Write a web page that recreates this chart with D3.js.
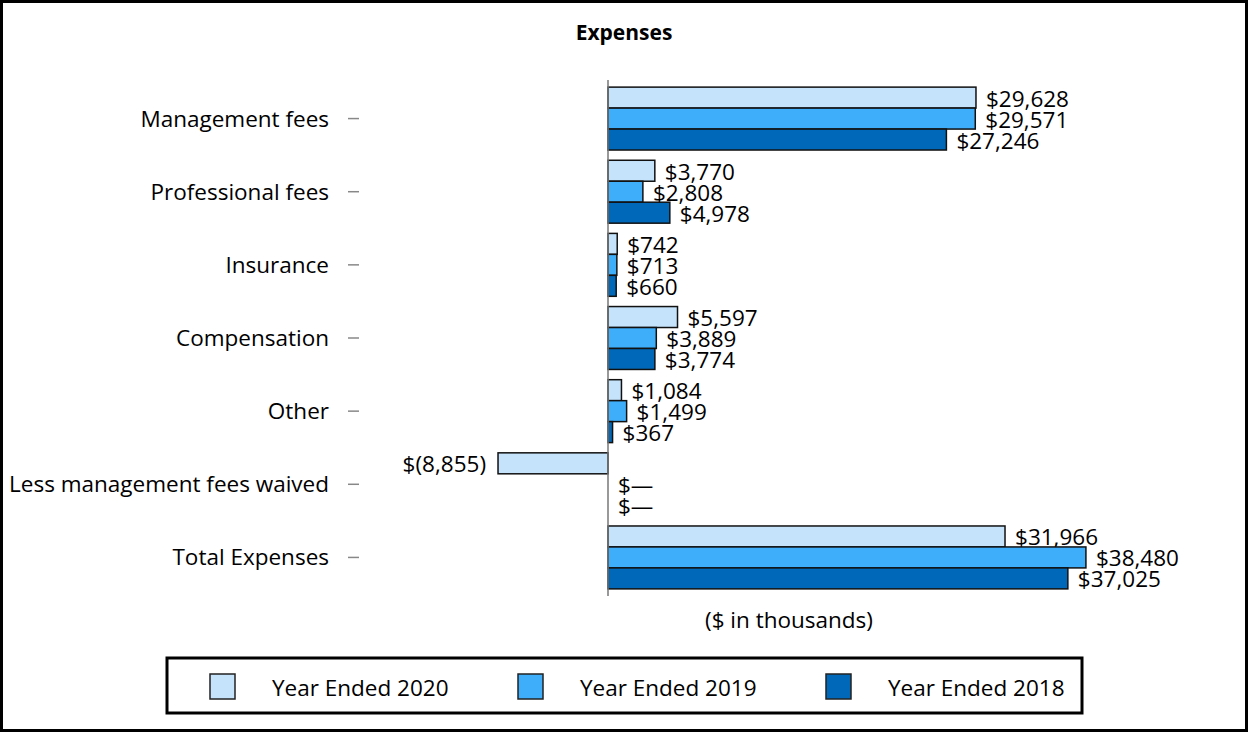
<!DOCTYPE html>
<html>
<head>
<meta charset="utf-8">
<script src="https://cdn.jsdelivr.net/npm/d3@7"></script>
<style>
  body { margin: 0; background: #fff; }
  svg { display: block; font-family: "Open Sans", sans-serif; }
</style>
</head>
<body>
<svg id="Canvas" width="1248" height="732"></svg>
<script>
var categories = ["Management fees", "Professional fees", "Insurance", "Compensation", "Other", "Less management fees waived", "Total Expenses"],
	seriesNames = ["Year Ended 2020", "Year Ended 2019", "Year Ended 2018"],
	values2020 = [29628, 3770, 742, 5597, 1084, -8855, 31966],
	values2019 = [29571, 2808, 713, 3889, 1499, 0, 38480],
	values2018 = [27246, 4978, 660, 3774, 367, 0, 37025],
	seriesColors = ["#c5e4fb", "#3faefa", "#0068b8"];

var svg = d3.select("#Canvas"),
	W = 1248, H = 732;

// outer frame
svg.append("rect")
	.attr("x", 1.5).attr("y", 1.5)
	.attr("width", W - 3).attr("height", H - 3)
	.attr("fill", "none").attr("stroke", "#000").attr("stroke-width", 3);

svg.append("text")
	.attr("x", 624).attr("y", 40)
	.attr("text-anchor", "middle")
	.style("font-weight", "bold").style("font-size", "21px")
	.text("Expenses");

var x = d3.scaleLinear().domain([0, 1000]).range([608, 620.42]);

var y = d3.scaleBand().domain(categories).range([82, 594]).paddingInner(0.14).paddingOuter(0.07);

var y1 = d3.scaleBand().domain(seriesNames).range([0, y.bandwidth()]);

var series = [values2020, values2019, values2018];

function fmt(v){
	if(v === 0) return "$\u2014";
	if(v < 0) return "$(" + d3.format(",")(-v) + ")";
	return "$" + d3.format(",")(v);
}

// category labels + ticks
var cats = svg.append("g");
categories.forEach(function(c){
	var cy = y(c) + y.bandwidth() / 2;
	cats.append("text")
		.attr("x", 329).attr("y", cy + 8)
		.attr("text-anchor", "end")
		.style("font-size", "22.5px")
		.text(c);
	cats.append("line")
		.attr("x1", 348).attr("x2", 359)
		.attr("y1", cy).attr("y2", cy)
		.attr("stroke", "#888").attr("stroke-width", 1.5);
});

// bars
series.forEach(function(vals, si){
	var g = svg.append("g");
	g.selectAll("rect").data(vals).enter()
		.append("rect")
		.attr("x", function(d){ return x(Math.min(0, d)); })
		.attr("y", function(d, i){ return y(categories[i]) + y1(seriesNames[si]); })
		.attr("width", function(d){ return Math.abs(x(d) - x(0)); })
		.attr("height", y1.bandwidth())
		.attr("fill", seriesColors[si])
		.attr("stroke", "#111").attr("stroke-width", 1.5)
		.style("display", function(d){ return d === 0 ? "none" : null; });

	g.selectAll("text").data(vals).enter()
		.append("text")
		.attr("x", function(d){ return d < 0 ? x(d) - 12 : x(d) + 10; })
		.attr("y", function(d, i){ return y(categories[i]) + y1(seriesNames[si]) + y1.bandwidth() / 2 + 9; })
		.attr("text-anchor", function(d){ return d < 0 ? "end" : "start"; })
		.style("font-size", "22.5px")
		.text(fmt);
});

// zero axis line
svg.append("line")
	.attr("x1", x(0)).attr("x2", x(0))
	.attr("y1", 80).attr("y2", 596)
	.attr("stroke", "#777").attr("stroke-width", 1.5);

svg.append("text")
	.attr("x", 789).attr("y", 628)
	.attr("text-anchor", "middle")
	.style("font-size", "22.5px")
	.text("($ in thousands)");

// legend
var legend = svg.append("g");
legend.append("rect")
	.attr("x", 167).attr("y", 658)
	.attr("width", 915).attr("height", 55)
	.attr("fill", "none").attr("stroke", "#000").attr("stroke-width", 3);

seriesNames.forEach(function(n, i){
	var lx = 210 + i * 308;
	legend.append("rect")
		.attr("x", lx).attr("y", 674)
		.attr("width", 25).attr("height", 25)
		.attr("fill", seriesColors[i]).attr("stroke", "#222").attr("stroke-width", 1.5);
	legend.append("text")
		.attr("x", lx + 62).attr("y", 696)
		.style("font-size", "22.5px")
		.text(n);
});
</script>
</body>
</html>
